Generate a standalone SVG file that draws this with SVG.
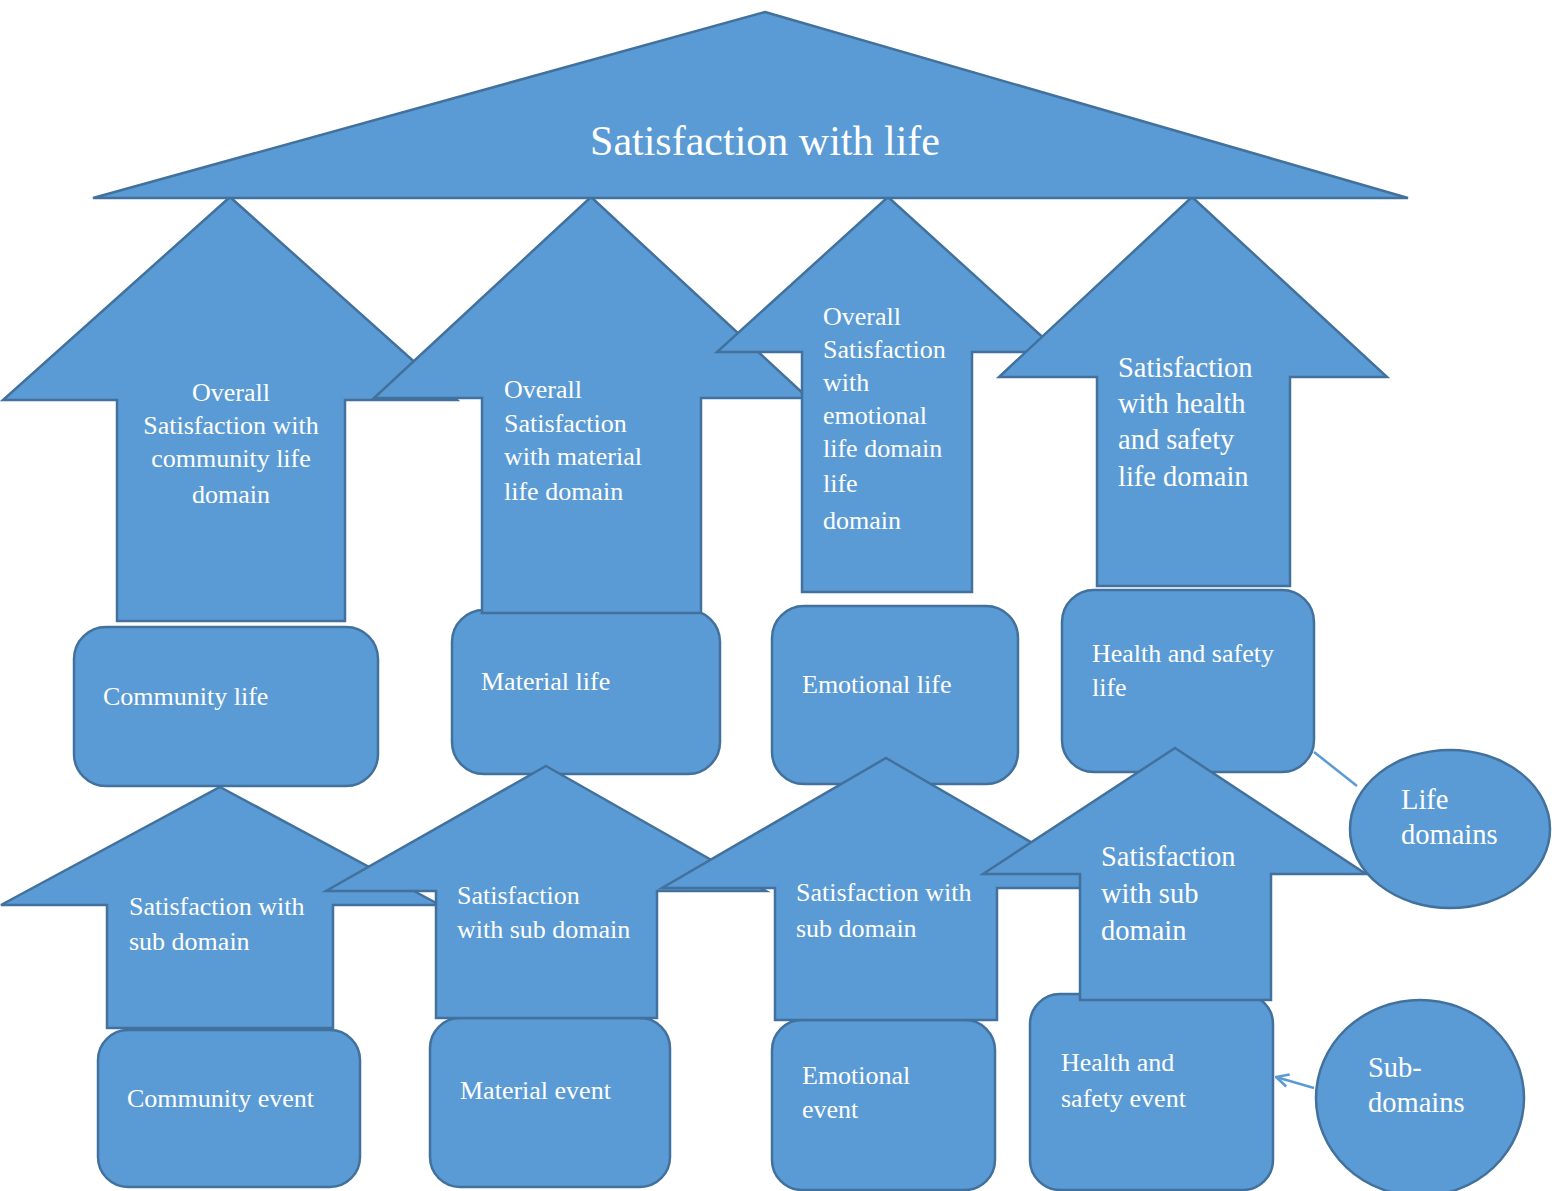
<svg xmlns="http://www.w3.org/2000/svg" width="1552" height="1191" viewBox="0 0 1552 1191">
<style>
.s{fill:#5B9BD5;stroke:#41719C;stroke-width:2.5;stroke-linejoin:miter}
.t{fill:#FFFFFF;font-family:"Liberation Serif","Times New Roman",serif;font-size:26px}
.b{font-size:28.5px}
.c{stroke:#5B9BD5;stroke-width:2.5;fill:none}
</style>
<defs>
<marker id="ah" viewBox="0 0 12 12" refX="11" refY="6" markerWidth="6" markerHeight="6" orient="auto" markerUnits="strokeWidth">
<path d="M1,1 L11,6 L1,11" fill="none" stroke="#5B9BD5" stroke-width="2"/>
</marker>
</defs>
<rect width="1552" height="1191" fill="#FFFFFF"/>

<g id="community-life">
<rect class="s" x="74" y="627" width="304" height="159" rx="32"/>
<text class="t" x="103" y="705">Community life</text>
</g>
<g id="material-life">
<rect class="s" x="452" y="610" width="268" height="164" rx="32"/>
<text class="t" x="481" y="690">Material life</text>
</g>
<g id="emotional-life">
<rect class="s" x="772" y="606" width="246" height="178" rx="32"/>
<text class="t" x="802" y="693">Emotional life</text>
</g>
<g id="health-life">
<rect class="s" x="1062" y="590" width="252" height="182" rx="32"/>
<text class="t" x="1092" y="662">Health and safety</text>
<text class="t" x="1092" y="696">life</text>
</g>

<g id="arrow-community">
<polygon class="s" points="230,197 457,400 345,400 345,621 117,621 117,400 3,400"/>
<text class="t" text-anchor="middle" x="231" y="401">Overall</text>
<text class="t" text-anchor="middle" x="231" y="434">Satisfaction with</text>
<text class="t" text-anchor="middle" x="231" y="467">community life</text>
<text class="t" text-anchor="middle" x="231" y="503">domain</text>
</g>
<g id="arrow-material">
<polygon class="s" points="591,197 808,398 701,398 701,613 482,613 482,398 374,398"/>
<text class="t" x="504" y="398">Overall</text>
<text class="t" x="504" y="432">Satisfaction</text>
<text class="t" x="504" y="465">with material</text>
<text class="t" x="504" y="500">life domain</text>
</g>
<g id="arrow-emotional">
<polygon class="s" points="888,197 1059,352 972,352 972,592 802,592 802,352 717,352"/>
<text class="t" x="823" y="325">Overall</text>
<text class="t" x="823" y="358">Satisfaction</text>
<text class="t" x="823" y="391">with</text>
<text class="t" x="823" y="424">emotional</text>
<text class="t" x="823" y="457">life domain</text>
<text class="t" x="823" y="492">life</text>
<text class="t" x="823" y="529">domain</text>
</g>
<g id="arrow-health">
<polygon class="s" points="1192,197 1387,377 1290,377 1290,586 1097,586 1097,377 999,377"/>
<text class="t b" x="1118" y="377">Satisfaction</text>
<text class="t b" x="1118" y="413">with health</text>
<text class="t b" x="1118" y="449">and safety</text>
<text class="t b" x="1118" y="486">life domain</text>
</g>

<g id="satisfaction-with-life">
<polygon class="s" points="765,12 1408,198 93,198"/>
<text class="t" text-anchor="middle" x="765" y="155" style="font-size:42px">Satisfaction with life</text>
</g>

<g id="community-event">
<rect class="s" x="98" y="1030" width="262" height="157" rx="30"/>
<text class="t" x="127" y="1107">Community event</text>
</g>
<g id="material-event">
<rect class="s" x="430" y="1018" width="240" height="169" rx="30"/>
<text class="t" x="460" y="1099">Material event</text>
</g>
<g id="emotional-event">
<rect class="s" x="772" y="1020" width="223" height="170" rx="30"/>
<text class="t" x="802" y="1084">Emotional</text>
<text class="t" x="802" y="1118">event</text>
</g>
<g id="health-event">
<rect class="s" x="1030" y="994" width="243" height="196" rx="30"/>
<text class="t" x="1061" y="1071">Health and</text>
<text class="t" x="1061" y="1107">safety event</text>
</g>

<g id="sub-community">
<polygon class="s" points="220,787 440,905 333,905 333,1028 107,1028 107,905 1,905"/>
<text class="t" x="129" y="915">Satisfaction with</text>
<text class="t" x="129" y="950">sub domain</text>
</g>
<g id="sub-material">
<polygon class="s" points="546,766 766,891 657,891 657,1018 436,1018 436,891 326,891"/>
<text class="t" x="457" y="904">Satisfaction</text>
<text class="t" x="457" y="938">with sub domain</text>
</g>
<g id="sub-emotional">
<polygon class="s" points="886,758 1110,888 997,888 997,1020 775,1020 775,888 662,888"/>
<text class="t" x="796" y="901">Satisfaction with</text>
<text class="t" x="796" y="937">sub domain</text>
</g>
<g id="sub-health">
<polygon class="s" points="1175,748 1366,874 1271,874 1271,1000 1080,1000 1080,874 983,874"/>
<text class="t b" x="1101" y="866">Satisfaction</text>
<text class="t b" x="1101" y="903">with sub</text>
<text class="t b" x="1101" y="940">domain</text>
</g>

<g id="life-domains">
<ellipse class="s" cx="1450" cy="829" rx="100" ry="79"/>
<text class="t b" x="1401" y="809">Life</text>
<text class="t b" x="1401" y="844">domains</text>
</g>
<g id="sub-domains">
<ellipse class="s" cx="1420" cy="1098" rx="104" ry="98"/>
<text class="t b" x="1368" y="1077">Sub-</text>
<text class="t b" x="1368" y="1112">domains</text>
</g>

<g id="connectors">
<line class="c" x1="1357" y1="786" x2="1314" y2="752"/>
<line class="c" x1="1314" y1="1088" x2="1276" y2="1077" marker-end="url(#ah)"/>
</g>
</svg>
